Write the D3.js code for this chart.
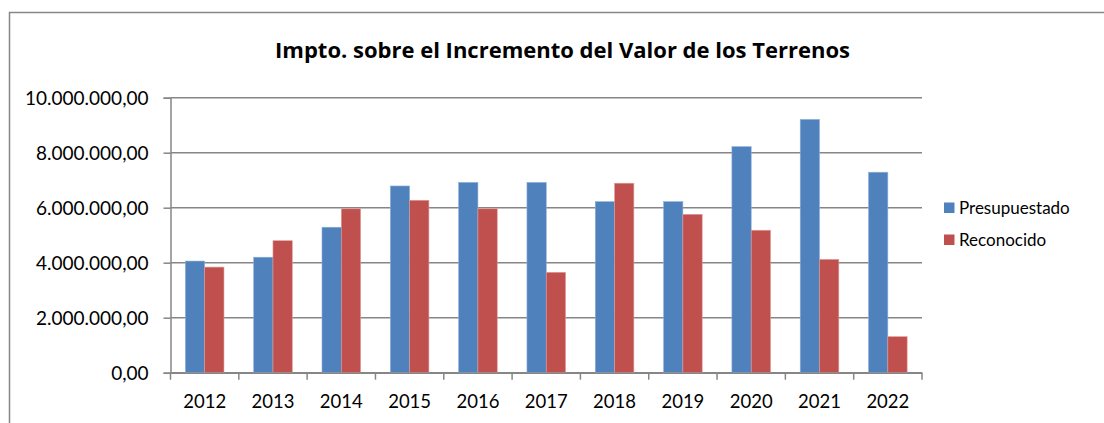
<!DOCTYPE html>
<html>
<head>
<meta charset="utf-8">
<script src="https://cdn.jsdelivr.net/npm/d3@7"></script>
<style>
  body { margin: 0; background: #fff; }
  text { font-family: Lato, "Open Sans", sans-serif; fill: #000; }
</style>
</head>
<body>
<div id="chart"></div>
<script>
const years = ['2012', '2013', '2014', '2015', '2016', '2017', '2018', '2019', '2020', '2021', '2022'];
const presupuestado = [4060000, 4200000, 5290000, 6790000, 6920000, 6920000, 6220000, 6220000, 8220000, 9210000, 7290000];
const reconocido = [3840000, 4800000, 5960000, 6270000, 5960000, 3650000, 6890000, 5760000, 5180000, 4120000, 1310000];
const seriesNames = ['Presupuestado', 'Reconocido'];
const seriesColors = ['#4F81BD', '#C0504D'];
const yTicks = [0, 2000000, 4000000, 6000000, 8000000, 10000000];
const title = 'Impto. sobre el Incremento del Valor de los Terrenos';

const W = 1104, H = 423;
const margin = { top: 97.7, left: 170.5, right: 182, bottom: 50 };
const width = 922 - margin.left;
const height = 372.7 - margin.top;

const svg = d3.select('#chart').append('svg').attr('width', W).attr('height', H);

// outer chart frame (runs off the right and bottom edges)
svg.append('rect')
  .attr('x', 9.5).attr('y', 12.5)
  .attr('width', W).attr('height', H)
  .attr('fill', 'none').attr('stroke', '#868686').attr('stroke-width', 1.5);

svg.append('text')
  .attr('x', 562.5).attr('y', 58)
  .attr('text-anchor', 'middle')
  .style('font-family', '"Open Sans", sans-serif')
  .style('font-size', '22px').style('font-weight', 'bold')
  .text(title);

const chart = svg.append('g').attr('transform', `translate(${margin.left},${margin.top})`);

const x0 = d3.scaleBand().domain(years).range([0, width]).paddingInner(0).paddingOuter(0);
const x1 = d3.scaleBand().domain(seriesNames).range([0, x0.bandwidth()]).paddingInner(0).paddingOuter(0.77);
const y = d3.scaleLinear().domain([0, 10000000]).range([height, 0]);

const fmt = v => {
  const s = d3.format(',.2f')(v);
  return s.replace(/,/g, '#').replace('.', ',').replace(/#/g, '.');
};

// gridlines
chart.append('g')
  .selectAll('line')
  .data(yTicks)
  .enter()
  .append('line')
  .attr('x1', 0).attr('x2', width)
  .attr('y1', d => y(d)).attr('y2', d => y(d))
  .attr('stroke', '#868686').attr('stroke-width', 1.5);

// bars
const data = years.map((yr, i) => ({ year: yr, values: [presupuestado[i], reconocido[i]] }));
const groups = chart.selectAll('.grp')
  .data(data)
  .enter()
  .append('g')
  .attr('class', 'grp')
  .attr('transform', d => `translate(${x0(d.year)},0)`);

groups.selectAll('rect')
  .data(d => d.values.map((v, k) => ({ name: seriesNames[k], v, k })))
  .enter()
  .append('rect')
  .attr('x', d => x1(d.name))
  .attr('width', x1.bandwidth())
  .attr('y', d => y(d.v))
  .attr('height', d => height - y(d.v))
  .attr('fill', d => seriesColors[d.k])
  .attr('stroke', d => d.k === 0 ? '#8fb0d8' : '#e09a98')
  .attr('stroke-width', 0.6);

// y axis
const yAxis = chart.append('g')
  .call(d3.axisLeft(y).tickValues(yTicks).tickFormat(fmt).tickSize(7).tickPadding(15));
yAxis.select('.domain').attr('stroke', '#868686').attr('stroke-width', 1.5);
yAxis.selectAll('.tick line').attr('stroke', '#868686').attr('stroke-width', 1.5);
yAxis.selectAll('.tick text').style('font-size', '19px').attr('dy', '0.35em');

// x axis
const xAxis = chart.append('g')
  .attr('transform', `translate(0,${height})`)
  .call(d3.axisBottom(x0).tickSize(0).tickPadding(22));
xAxis.select('.domain').attr('stroke', '#868686').attr('stroke-width', 1.5);
xAxis.selectAll('.tick text').style('font-size', '18.5px');

// category boundary ticks
chart.append('g')
  .attr('transform', `translate(0,${height})`)
  .selectAll('line')
  .data(years.concat(['end']))
  .enter()
  .append('line')
  .attr('x1', (d, i) => i * x0.bandwidth())
  .attr('x2', (d, i) => i * x0.bandwidth())
  .attr('y1', 0).attr('y2', 7)
  .attr('stroke', '#868686').attr('stroke-width', 1.5);

// legend
const legend = svg.append('g').attr('transform', 'translate(944,208)');
const li = legend.selectAll('g')
  .data(seriesNames)
  .enter()
  .append('g')
  .attr('transform', (d, i) => `translate(0,${i * 32})`);
li.append('rect')
  .attr('x', 0).attr('y', -5.5)
  .attr('width', 10.5).attr('height', 10.5)
  .attr('fill', (d, i) => seriesColors[i]);
li.append('text')
  .attr('x', 15).attr('dy', '0.35em')
  .style('font-size', '17px')
  .text(d => d);
</script>
</body>
</html>
